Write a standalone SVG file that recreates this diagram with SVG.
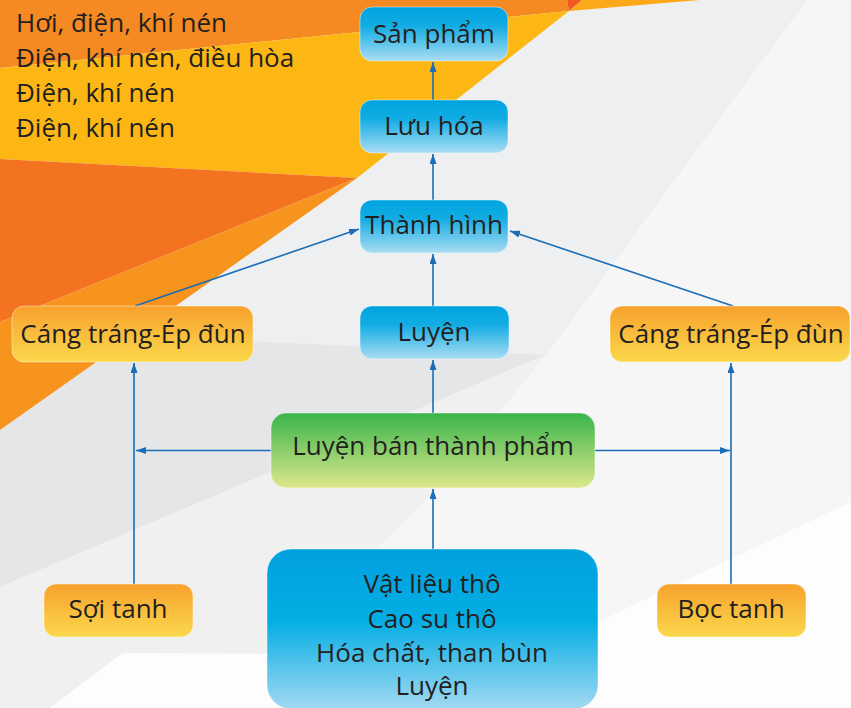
<svg xmlns="http://www.w3.org/2000/svg" width="851" height="708" viewBox="0 0 851 708">
  <defs>
    <linearGradient id="gBlue" x1="0" y1="0" x2="0" y2="1">
      <stop offset="0" stop-color="#00A3E0"/>
      <stop offset="0.35" stop-color="#12ACE3"/>
      <stop offset="1" stop-color="#AADDF4"/>
    </linearGradient>
    <linearGradient id="gBig" x1="0" y1="0" x2="0" y2="1">
      <stop offset="0" stop-color="#00A0DF"/>
      <stop offset="0.45" stop-color="#04AEE4"/>
      <stop offset="1" stop-color="#A3D9F2"/>
    </linearGradient>
    <linearGradient id="gOrange" x1="0" y1="0" x2="0" y2="1">
      <stop offset="0" stop-color="#F7A12C"/>
      <stop offset="1" stop-color="#FBD84C"/>
    </linearGradient>
    <linearGradient id="gGreen" x1="0" y1="0" x2="0" y2="1">
      <stop offset="0" stop-color="#39B44A"/>
      <stop offset="1" stop-color="#DDE88C"/>
    </linearGradient>
    <marker id="arr" markerUnits="userSpaceOnUse" markerWidth="11" markerHeight="8" refX="10" refY="3.5" orient="auto">
      <path d="M0,0 L10,3.5 L0,7 Z" fill="#1A6DB7"/>
    </marker>
  </defs>
  <style>
    .lbl { font-family: "Open Sans", "Noto Sans", "DejaVu Sans", sans-serif; font-size: 26px; fill: #231F20; text-anchor: middle; }
    .side { font-family: "Open Sans", "Noto Sans", "DejaVu Sans", sans-serif; font-size: 26px; fill: #231F20; }
    .conn { stroke: #1A6DB7; stroke-width: 1.6; fill: none; marker-end: url(#arr); }
    .box { stroke: #FFFFFF; stroke-opacity: 0.45; stroke-width: 1; }
  </style>

  <!-- background -->
  <g id="background">
    <rect x="0" y="0" width="851" height="708" fill="#F6F6F7"/>
    <polygon points="700,0 807,0 547,354 0,587 0,430 357,178 569,11" fill="#EEEFF0"/>
    <polygon points="133,336 547,355 0,587 0,430" fill="#E5E6E8"/>
    <polygon points="0,587 547,354 433,493 267,655 123,653 50,708 0,708" fill="#F0F0F1"/>
    <polygon points="851,502 851,708 50,708 123,653 300,654 587,627" fill="#FDFDFD"/>
    <polygon points="0,0 567,0 569,11 0,68" fill="#F48A21"/>
    <polygon points="567,0 582,0 569,11" fill="#F15A24"/>
    <polygon points="582,0 700,0 569,11" fill="#FBA81B"/>
    <polygon points="0,68 569,11 357,178 0,159" fill="#FDB714"/>
    <polygon points="0,159 357,178 0,322" fill="#F37321"/>
    <polygon points="357,178 0,322 0,430" fill="#F7941E"/>
  </g>

  <!-- side text -->
  <g id="legend">
    <text class="side" x="16" y="32">Hơi, điện, khí nén</text>
    <text class="side" x="16" y="67">Điện, khí nén, điều hòa</text>
    <text class="side" x="16" y="102">Điện, khí nén</text>
    <text class="side" x="16" y="137">Điện, khí nén</text>
  </g>

  <!-- connectors -->
  <g id="connectors">
    <line class="conn" x1="433" y1="100" x2="433" y2="62"/>
    <line class="conn" x1="433" y1="200" x2="433" y2="154"/>
    <line class="conn" x1="433" y1="306" x2="433" y2="254"/>
    <line class="conn" x1="433" y1="413" x2="433" y2="360"/>
    <line class="conn" x1="433" y1="549" x2="433" y2="489"/>
    <line class="conn" x1="135" y1="306" x2="359" y2="229"/>
    <line class="conn" x1="733" y1="306" x2="510" y2="231"/>
    <line class="conn" x1="134" y1="584" x2="134" y2="363"/>
    <line class="conn" x1="271" y1="450.5" x2="136" y2="450.5"/>
    <line class="conn" x1="731" y1="584" x2="731" y2="363"/>
    <line class="conn" x1="595" y1="450.5" x2="730" y2="450.5"/>
  </g>

  <!-- nodes -->
  <g id="san-pham">
    <rect class="box" x="360" y="7" width="148" height="54" rx="12" fill="url(#gBlue)"/>
    <text class="lbl" x="434" y="43">Sản phẩm</text>
  </g>
  <g id="luu-hoa">
    <rect class="box" x="360" y="100" width="148" height="53" rx="12" fill="url(#gBlue)"/>
    <text class="lbl" x="434" y="135">Lưu hóa</text>
  </g>
  <g id="thanh-hinh">
    <rect class="box" x="360" y="200" width="148" height="53" rx="12" fill="url(#gBlue)"/>
    <text class="lbl" x="434" y="234">Thành hình</text>
  </g>
  <g id="luyen">
    <rect class="box" x="360" y="306" width="149" height="53" rx="12" fill="url(#gBlue)"/>
    <text class="lbl" x="434" y="341">Luyện</text>
  </g>
  <g id="cang-trang-left">
    <rect class="box" x="12" y="306" width="241" height="56" rx="12" fill="url(#gOrange)"/>
    <text class="lbl" x="133" y="343">Cáng tráng-Ép đùn</text>
  </g>
  <g id="cang-trang-right">
    <rect class="box" x="610" y="306" width="240" height="56" rx="12" fill="url(#gOrange)"/>
    <text class="lbl" x="731" y="343">Cáng tráng-Ép đùn</text>
  </g>
  <g id="luyen-ban-thanh-pham">
    <rect class="box" x="271" y="413" width="324" height="75" rx="15" fill="url(#gGreen)"/>
    <text class="lbl" x="433" y="455">Luyện bán thành phẩm</text>
  </g>
  <g id="soi-tanh">
    <rect class="box" x="44" y="584" width="149" height="53" rx="12" fill="url(#gOrange)"/>
    <text class="lbl" x="118" y="618">Sợi tanh</text>
  </g>
  <g id="boc-tanh">
    <rect class="box" x="657" y="584" width="149" height="53" rx="12" fill="url(#gOrange)"/>
    <text class="lbl" x="731" y="618">Bọc tanh</text>
  </g>
  <g id="vat-lieu-tho">
    <rect class="box" x="267" y="549" width="331" height="160" rx="24" fill="url(#gBig)"/>
    <text class="lbl" x="432" y="593">Vật liệu thô</text>
    <text class="lbl" x="432" y="628">Cao su thô</text>
    <text class="lbl" x="432" y="662">Hóa chất, than bùn</text>
    <text class="lbl" x="432" y="695">Luyện</text>
  </g>
</svg>
